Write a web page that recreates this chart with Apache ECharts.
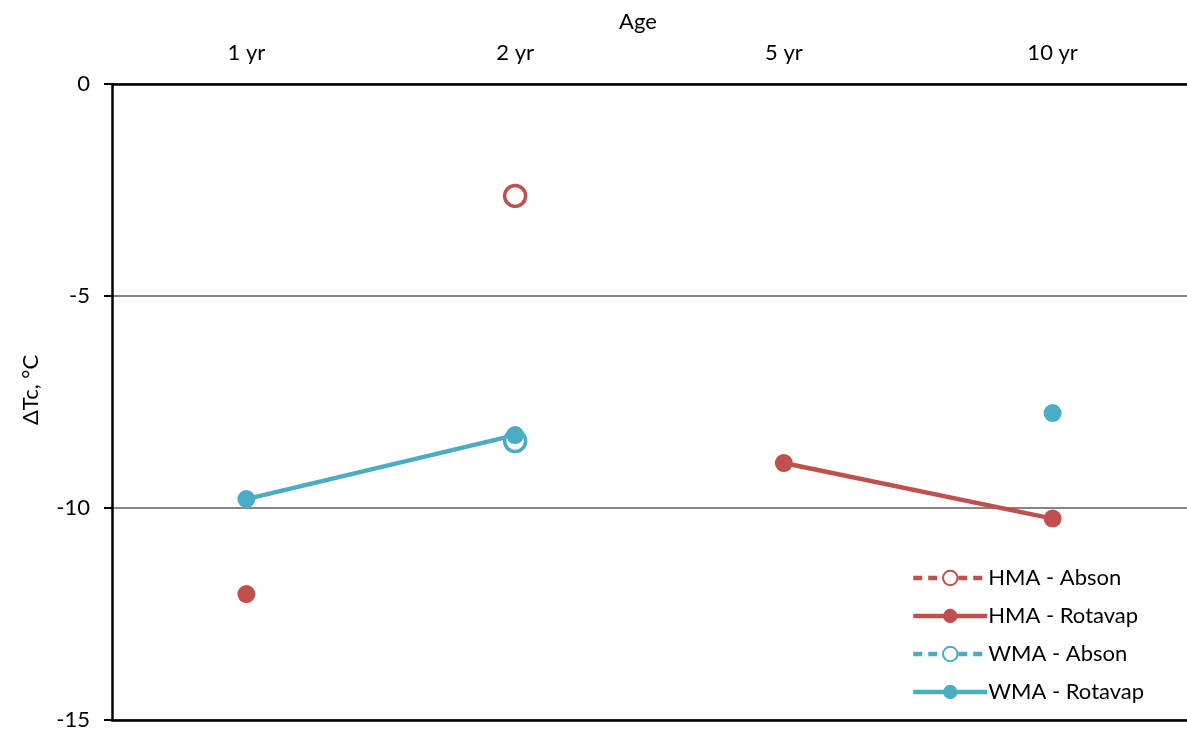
<!DOCTYPE html>
<html>
<head>
<meta charset="utf-8">
<script src="https://cdn.jsdelivr.net/npm/echarts@6/dist/echarts.min.js"></script>
<style>html,body{margin:0;padding:0;background:#fff}#c{width:1187px;height:735px}</style>
</head>
<body>
<div id="c"></div>
<script>
const categories = ['1 yr', '2 yr', '5 yr', '10 yr'];
const hmaAbson = [null, -2.64, null, null];
const hmaRotavap = [-12.03, null, -8.94, -10.25];
const wmaAbson = [null, -8.42, null, null];
const wmaRotavap = [-9.79, -8.28, null, -7.76];
const yTicks = [0, -5, -10, -15];

const RED = '#C0504D';
const BLUE = '#4BACC6';
const FONT = 'Lato';

const chart = echarts.init(document.getElementById('c'));
const filled = (name, data, color) => ({
  name, type: 'line', data, connectNulls: false,
  symbol: 'circle', symbolSize: 18,
  lineStyle: { color, width: 4.5, type: 'solid' },
  itemStyle: { color },
  emphasis: { disabled: true }
});
const hollow = (name, data, color) => ({
  name, type: 'line', data, connectNulls: false,
  symbol: 'circle', symbolSize: 21,
  lineStyle: { color, width: 4.5, type: [9, 6] },
  itemStyle: { color: '#fff', borderColor: color, borderWidth: 3.5 },
  emphasis: { disabled: true }
});

chart.setOption({
  animation: false,
  backgroundColor: '#fff',
  textStyle: { fontFamily: FONT },
  title: {
    text: 'Age', left: 633, top: 6, textAlign: 'center',
    textStyle: { fontFamily: FONT, fontSize: 22, fontWeight: 'normal', color: '#000' }
  },
  grid: { left: 112, right: 0, top: 84, bottom: 15, containLabel: false },
  legend: {
    orient: 'vertical', left: 906, top: 562,
    itemWidth: 74, itemHeight: 18, itemGap: 16,
    lineStyle: { width: 4.5 },
    textStyle: { fontFamily: FONT, fontSize: 22, color: '#000', padding: [0, 0, 0, -4] },
    data: ['HMA - Abson', 'HMA - Rotavap', 'WMA - Abson', 'WMA - Rotavap']
  },
  xAxis: [{
    type: 'category', data: categories, position: 'top', boundaryGap: true,
    axisLine: { lineStyle: { color: '#000', width: 2.5 } },
    axisTick: { show: false },
    axisLabel: { color: '#000', fontSize: 22, margin: 20, fontFamily: FONT },
    splitLine: { show: false }
  }, {
    type: 'category', data: categories, position: 'bottom', boundaryGap: true,
    axisLine: { lineStyle: { color: '#000', width: 2.5 } },
    axisTick: { show: false }, axisLabel: { show: false }, splitLine: { show: false }
  }],
  yAxis: {
    type: 'value', min: -15, max: 0, interval: 5,
    name: 'ΔTc, °C', nameLocation: 'middle', nameGap: 70, nameRotate: 90,
    nameTextStyle: { color: '#000', fontSize: 22, fontFamily: FONT, padding: [0, 0, 0, 24] },
    axisLine: { show: true, lineStyle: { color: '#000', width: 2.5 } },
    axisTick: { show: true, inside: false, length: 8, lineStyle: { color: '#000', width: 2 } },
    axisLabel: { color: '#000', fontSize: 22, margin: 22, fontFamily: FONT,
      formatter: v => yTicks.includes(v) ? String(v) : '' },
    splitLine: { show: true, lineStyle: { color: '#868686', width: 2 } }
  },
  series: [
    hollow('HMA - Abson', hmaAbson, RED),
    filled('HMA - Rotavap', hmaRotavap, RED),
    hollow('WMA - Abson', wmaAbson, BLUE),
    filled('WMA - Rotavap', wmaRotavap, BLUE)
  ]
});
</script>
</body>
</html>
